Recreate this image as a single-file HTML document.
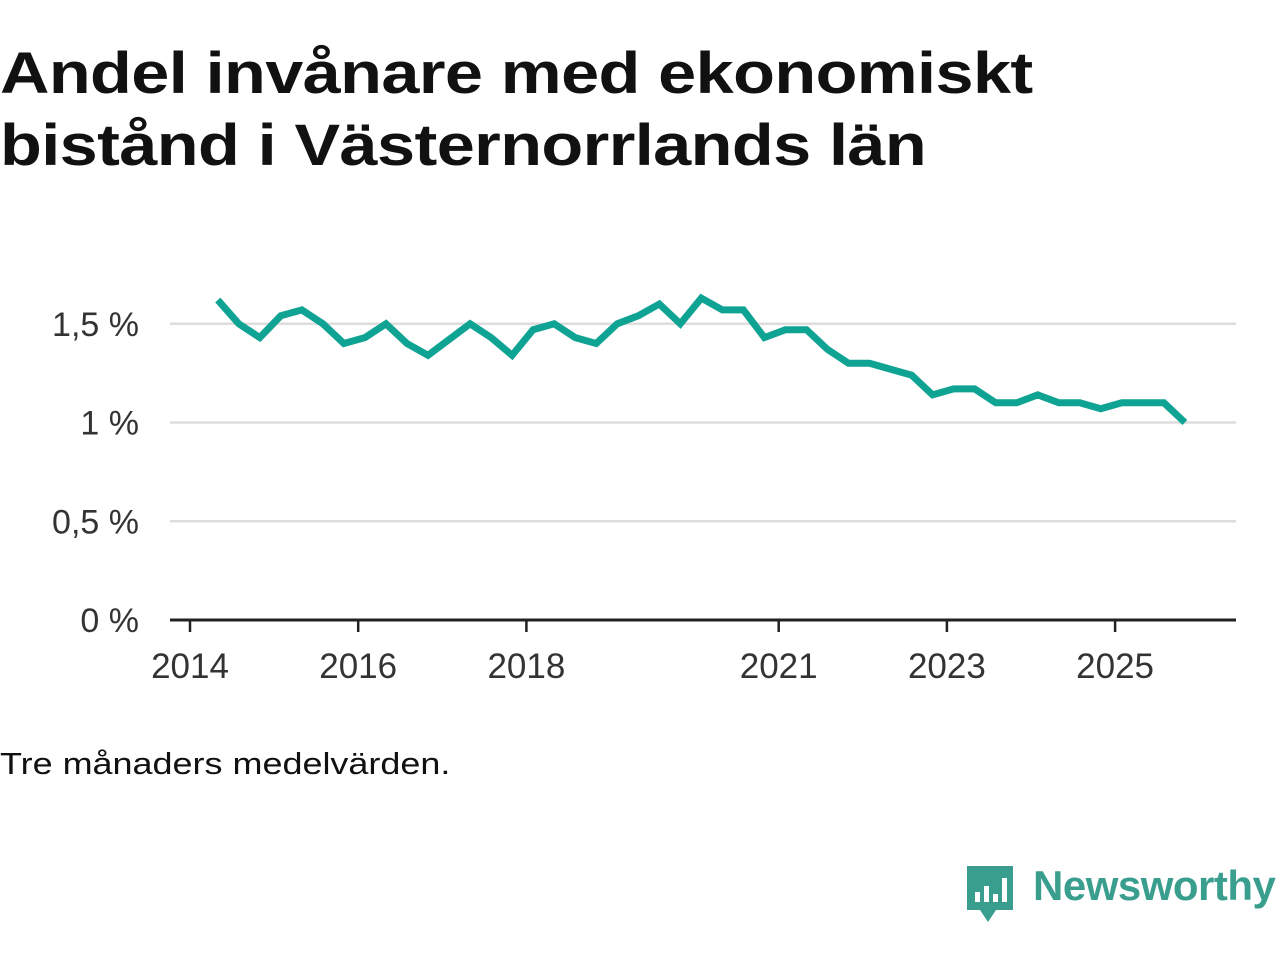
<!DOCTYPE html>
<html><head><meta charset="utf-8"><style>
body{margin:0;width:1280px;height:960px;background:#fff;font-family:"Liberation Sans",sans-serif;overflow:hidden;position:relative}
h1{position:absolute;left:0;top:38px;margin:0;font-size:58px;line-height:72px;font-weight:bold;color:#111;letter-spacing:-0.5px;transform:scaleX(1.18);transform-origin:0 0;white-space:nowrap}
.note{position:absolute;left:0;top:746px;font-size:31px;color:#111;transform:scaleX(1.16);transform-origin:0 0;white-space:nowrap}
.logo{position:absolute;left:964px;top:864px}
.logo-text{position:absolute;left:1033px;top:862px;font-size:42px;color:#3a9e8f;font-weight:bold;letter-spacing:-0.5px}
</style></head><body>
<h1>Andel invånare med ekonomiskt<br>bistånd i Västernorrlands län</h1>
<svg id="chart" width="1280" height="720" style="position:absolute;left:0;top:0"></svg>
<div class="note">Tre månaders medelvärden.</div>
<svg class="logo" width="52" height="62" viewBox="0 0 52 62">
<path d="M3 2h46v44H32l-8 12-8-12H3z" fill="#3a9e8f"/>
<rect x="11" y="28" width="5" height="10" fill="#fff"/><rect x="20" y="22" width="5" height="16" fill="#fff"/><rect x="29" y="30" width="5" height="8" fill="#fff"/><rect x="38" y="14" width="5" height="24" fill="#fff"/>
</svg>
<div class="logo-text">Newsworthy</div>
<script>
const values=[1.62,1.50,1.43,1.54,1.57,1.50,1.40,1.43,1.50,1.40,1.34,1.42,1.50,1.43,1.34,1.47,1.50,1.43,1.40,1.50,1.54,1.60,1.50,1.63,1.57,1.57,1.43,1.47,1.47,1.37,1.30,1.30,1.27,1.24,1.14,1.17,1.17,1.10,1.10,1.14,1.10,1.10,1.07,1.10,1.10,1.10,1.00];
const startYear=2014.33;
const yTicks=[0,0.5,1,1.5];
const yTickLabels=["0 %","0,5 %","1 %","1,5 %"];
const xTicks=[2014,2016,2018,2021,2023,2025];
const NS="http://www.w3.org/2000/svg";
const svg=document.getElementById('chart');
const x=t=>190+(t-2014)*84.1;
const y=v=>620-v*197.5;
function mk(tag,attrs,parent){const e=document.createElementNS(NS,tag);for(const k in attrs)e.setAttribute(k,attrs[k]);(parent||svg).appendChild(e);return e;}
yTicks.forEach((v,i)=>{
 if(v>0){const g=mk('line',{x1:170,x2:1236,y1:y(v),y2:y(v),stroke:'#ddd','stroke-width':2.5});
 
 }
 const t=mk('text',{x:139,y:y(v)+12,'text-anchor':'end','font-size':34,fill:'#333','font-family':'Liberation Sans, sans-serif','textLength':0});
 t.removeAttribute('textLength');
 t.textContent=yTickLabels[i];
 
 
});
const ax=mk('line',{x1:170,x2:1236,y1:620,y2:620,stroke:'#222','stroke-width':3});


xTicks.forEach(yr=>{
 const tk=mk('line',{x1:x(yr),x2:x(yr),y1:620,y2:632,stroke:'#222','stroke-width':2.5});
 
 
 const t=mk('text',{x:x(yr),y:678,'text-anchor':'middle','font-size':35,fill:'#333','font-family':'Liberation Sans, sans-serif'});
 t.textContent=yr;
 
 
});
const pts=values.map((v,i)=>x(startYear+i*0.25).toFixed(1)+','+y(v).toFixed(1)).join(' ');
const line=mk('polyline',{points:pts,fill:'none',stroke:'#0fa394','stroke-width':7,'stroke-linejoin':'miter'});


</script>
</body></html>
